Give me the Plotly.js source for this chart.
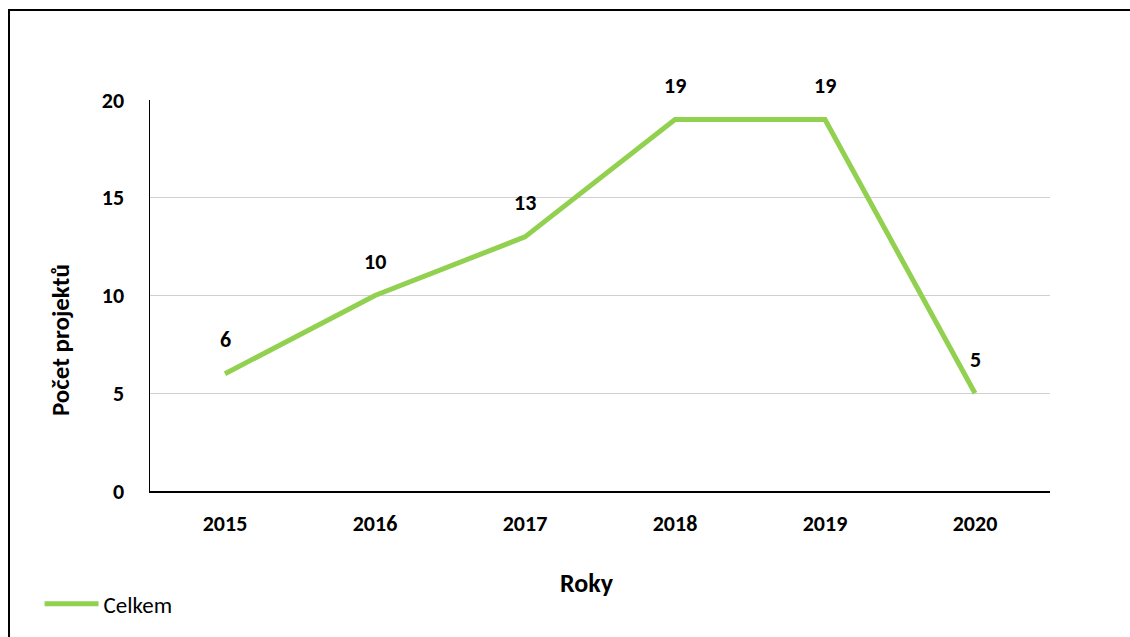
<!DOCTYPE html>
<html><head><meta charset="utf-8">
<script src="https://cdn.plot.ly/plotly-3.0.1.min.js"></script>
<style>
html,body{margin:0;padding:0;background:#fff;}
#wrap{position:relative;width:1130px;height:637px;overflow:hidden;}
#frame{position:absolute;left:8px;top:9px;width:1200px;height:700px;border-top:2px solid #000;border-left:2px solid #000;pointer-events:none;}
#chart{position:absolute;left:0;top:0;width:1130px;height:637px;}
</style></head>
<body><div id="wrap"><div id="chart"></div><div id="frame"></div></div>
<script>
const years = ['2015','2016','2017','2018','2019','2020'];
const celkem = [6, 10, 13, 19, 19, 5];
const seriesName = 'Celkem';
const xTitle = 'Roky';
const yTitle = 'Počet projektů';

const F = 'Carlito, Calibri, Lato, "DejaVu Sans", sans-serif';
const trace = {
  x: years, y: celkem, type: 'scatter', mode: 'lines', name: seriesName,
  line: {color: '#92D050', width: 5}
};
const annotations = years.map((yr, i) => ({
  xref: 'x', yref: 'y', x: i, y: celkem[i], text: '<b>' + celkem[i] + '</b>', showarrow: false,
  yshift: 34, xanchor: 'center', yanchor: 'middle',
  font: {family: F, size: 22, color: '#000'}
}));
annotations.push({
  xref: 'paper', yref: 'paper', x: 0, y: 0.386, xshift: -90, textangle: -90,
  text: '<b>' + yTitle + '</b>', showarrow: false, xanchor: 'center', yanchor: 'middle',
  font: {family: F, size: 25, color: '#000'}
});
annotations.push({
  xref: 'paper', yref: 'paper', x: 0.4856, y: 0, yshift: -92,
  text: '<b>' + xTitle + '</b>', showarrow: false, xanchor: 'center', yanchor: 'middle',
  font: {family: F, size: 26, color: '#000'}
});
const layout = {
  width: 1130, height: 637,
  margin: {l: 150, r: 80, t: 100, b: 146, autoexpand: false},
  paper_bgcolor: '#fff', plot_bgcolor: '#fff',
  font: {family: F, color: '#000'},
  showlegend: true,
  legend: {xref: 'container', yref: 'container', x: 0.035, y: 0.052, xanchor: 'left', yanchor: 'middle',
           itemwidth: 54, font: {family: F, size: 23, color: '#000'}, bgcolor: 'rgba(0,0,0,0)'},
  xaxis: {type: 'category', range: [-0.5, 5.5], showgrid: false, showline: true, linecolor: '#000', linewidth: 1.5,
          ticks: 'outside', ticklen: 12, tickcolor: 'rgba(0,0,0,0)', tickfont: {family: F, size: 22, weight: 'bold'}, zeroline: false,
          automargin: false},
  yaxis: {range: [0, 20], dtick: 5, tick0: 0, showgrid: true, gridcolor: '#d0d0d0', gridwidth: 1.3,
          showline: true, linecolor: '#000', linewidth: 1.5, ticks: 'outside', ticklen: 20, tickcolor: 'rgba(0,0,0,0)', zeroline: false,
          automargin: false,
          tickfont: {family: F, size: 22, weight: 'bold'}},
  annotations: annotations
};
Plotly.newPlot('chart', [trace], layout, {displayModeBar: false, staticPlot: true});
</script></body></html>
